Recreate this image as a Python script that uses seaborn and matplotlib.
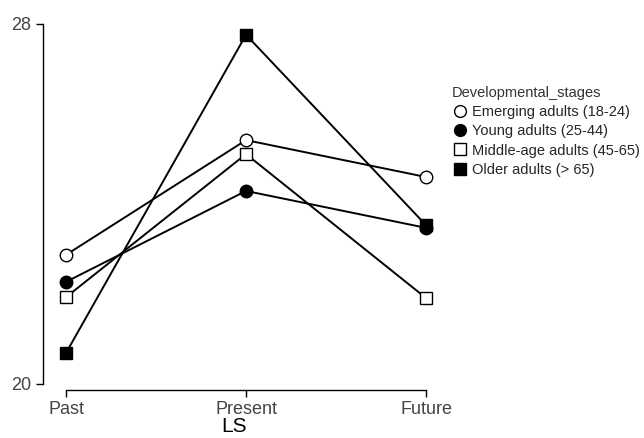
import matplotlib
matplotlib.use("Agg")
import matplotlib.pyplot as plt
import pandas as pd
import seaborn as sns

# values
time_points = ["Past", "Present", "Future"]
stages = [
    "Emerging adults (18-24)",
    "Young adults (25-44)",
    "Middle-age adults (45-65)",
    "Older adults (> 65)",
]
emerging = [22.87, 25.42, 24.60]
young = [22.27, 24.29, 23.47]
middle_age = [21.93, 25.11, 21.91]
older = [20.69, 27.76, 23.53]

rows = []
for stage, vals in zip(stages, [emerging, young, middle_age, older]):
    for t, v in zip(time_points, vals):
        rows.append({"LS": t, "value": v, "Developmental_stages": stage})
df = pd.DataFrame(rows)

sns.set_style("ticks")
plt.rcParams["font.family"] = ["Liberation Sans", "DejaVu Sans"]

fig = plt.figure(figsize=(6.44, 4.38), dpi=100)
ax = fig.add_axes([43 / 644, 54 / 438, 383 / 644, 360 / 438])

sns.pointplot(
    data=df, x="LS", y="value", hue="Developmental_stages",
    order=time_points, hue_order=stages,
    palette=["black"] * 4, markers=["o", "o", "s", "s"],
    errorbar=None, dodge=False, legend=False, ax=ax,
)

faces = ["white", "black", "white", "black"]
lines = [ln for ln in ax.lines if len(ln.get_xdata()) == 3]
for ln, fc, lab in zip(lines, faces, stages):
    ln.set_markerfacecolor(fc)
    ln.set_markeredgecolor("black")
    ln.set_markersize(9)
    ln.set_markeredgewidth(1.0)
    ln.set_linewidth(1.4)
    ln.set_color("black")
    ln.set_clip_on(False)
    ln.set_label(lab)

ax.set_xlim(-0.128, 2.0)
ax.set_ylim(20, 28)
ax.set_yticks([20, 28])
ax.set_xlabel("LS", fontsize=15, color="black", labelpad=-1)
ax.set_ylabel("")

for side in ["top", "right"]:
    ax.spines[side].set_visible(False)
ax.spines["left"].set_bounds(20, 28)
ax.spines["bottom"].set_bounds(0, 2)
ax.spines["bottom"].set_position(("outward", 4))
for side in ["left", "bottom"]:
    ax.spines[side].set_linewidth(1.0)
    ax.spines[side].set_color("black")

ax.tick_params(axis="both", labelsize=13, labelcolor="#444444",
               color="black", width=1.0, length=5, direction="out")

leg = ax.legend(
    handles=lines, labels=stages, title="Developmental_stages",
    loc="upper left", bbox_to_anchor=(442 / 644, 1 - 76 / 438),
    bbox_transform=fig.transFigure, frameon=False,
    fontsize=10.5, title_fontsize=10.5, handlelength=1.0,
    handletextpad=0.35, labelspacing=0.35, borderpad=0.2,
)
leg._legend_box.align = "left"
leg.get_title().set_color("#333333")
for h in leg.legend_handles:
    h.set_linestyle("none")
    h.set_markersize(8.5)

fig.savefig("out.png", dpi=100)
plt.close(fig)
